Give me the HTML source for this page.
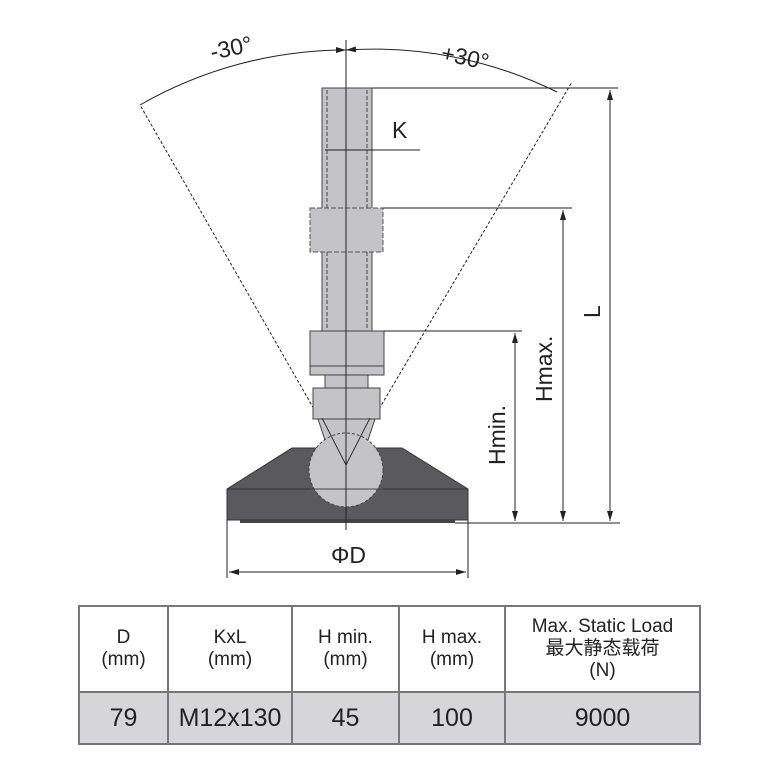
<!DOCTYPE html>
<html><head><meta charset="utf-8"><style>
body{margin:0;background:#fff;width:768px;height:768px;overflow:hidden;font-family:"Liberation Sans","Noto Sans CJK SC",sans-serif}
table{position:absolute;left:78px;top:605px;border-collapse:collapse;color:#222}
td{border:2px solid #777;text-align:center;padding:0}
.h td{height:84px;font-size:19px;line-height:22px;background:#fff}
.d td{height:50px;font-size:25px;background:#d6d6d8}
</style></head><body>
<svg width="768" height="600" style="position:absolute;left:0;top:0" font-family="Liberation Sans, sans-serif">
<defs><marker id="a" markerWidth="10" markerHeight="6" refX="10" refY="3" orient="auto-start-reverse"><path d="M0,0L10,3L0,6z" fill="#222"/></marker></defs>
<g stroke="#222" stroke-width="1" fill="none">
<line x1="346" y1="465" x2="140" y2="105" stroke-dasharray="3,2"/>
<line x1="346" y1="465" x2="572" y2="82" stroke-dasharray="3,2"/>
<path d="M140,105 A415,415 0 0 1 346,50" marker-end="url(#a)"/>
<path d="M557,92 A415,415 0 0 0 346,50" marker-end="url(#a)"/>
</g>
<path d="M292,448 L402,448 L468,489 L468,520 L227,520 L227,489 Z" fill="#5a5a5c" stroke="#333"/>
<line x1="227" y1="489" x2="468" y2="489" stroke="#333"/>
<rect x="240" y="519" width="215" height="4" fill="#444"/>
<rect x="322" y="88" width="50" height="245" fill="#c4c4c6" stroke="#444"/>
<line x1="327" y1="90" x2="327" y2="330" stroke="#444" stroke-dasharray="4,2"/>
<line x1="367" y1="90" x2="367" y2="330" stroke="#444" stroke-dasharray="4,2"/>
<rect x="310" y="208" width="73" height="44" fill="#c4c4c6" stroke="#555" stroke-dasharray="5,2"/>
<rect x="310" y="331" width="74" height="44" fill="#c4c4c6" stroke="#444"/>
<line x1="310" y1="366" x2="384" y2="366" stroke="#444"/>
<rect x="325" y="375" width="43" height="13" fill="#c4c4c6" stroke="#444"/>
<rect x="313" y="388" width="67" height="31" fill="#c4c4c6" stroke="#444"/>
<path d="M318,419 L375,419 L368,440 L325,440Z" fill="#c4c4c6" stroke="#444"/>
<circle cx="346" cy="470" r="37" fill="#c4c4c6" stroke="#444" stroke-dasharray="3,2"/>
<line x1="310" y1="489" x2="383" y2="489" stroke="#444"/>
<path d="M322,418 L346,465 L370,418" fill="none" stroke="#333"/>
<line x1="346" y1="40" x2="346" y2="530" stroke="#222"/>
<g stroke="#222" stroke-width="1" fill="none">
<line x1="372" y1="88" x2="618" y2="88"/>
<line x1="383" y1="208" x2="572" y2="208"/>
<line x1="384" y1="331" x2="522" y2="331"/>
<line x1="455" y1="523" x2="620" y2="523"/>
<line x1="515" y1="333" x2="515" y2="521" marker-start="url(#a)" marker-end="url(#a)"/>
<line x1="563" y1="210" x2="563" y2="521" marker-start="url(#a)" marker-end="url(#a)"/>
<line x1="610" y1="90" x2="610" y2="521" marker-start="url(#a)" marker-end="url(#a)"/>
<line x1="227" y1="520" x2="227" y2="578"/>
<line x1="468" y1="520" x2="468" y2="578"/>
<line x1="229" y1="572" x2="466" y2="572" marker-start="url(#a)" marker-end="url(#a)"/>
<line x1="325" y1="150" x2="420" y2="150"/>
</g>
<g fill="#222" font-size="23">
<text x="212" y="60" transform="rotate(-12 212 60)">-30°</text>
<text x="440" y="60" transform="rotate(12 440 60)">+30°</text>
<text x="392" y="138">K</text>
<text x="331" y="563">ΦD</text>
<text transform="translate(505 465) rotate(-90)">Hmin.</text>
<text transform="translate(552 402) rotate(-90)">Hmax.</text>
<text transform="translate(600 318) rotate(-90)">L</text>
</g>
</svg>
<table>
<tr class="h"><td style="width:87px">D<br>(mm)</td><td style="width:122px">KxL<br>(mm)</td><td style="width:105px">H min.<br>(mm)</td><td style="width:104px">H max.<br>(mm)</td><td style="width:193px">Max. Static Load<br>最大静态载荷<br>(N)</td></tr>
<tr class="d"><td>79</td><td>M12x130</td><td>45</td><td>100</td><td>9000</td></tr>
</table>
</body></html>
